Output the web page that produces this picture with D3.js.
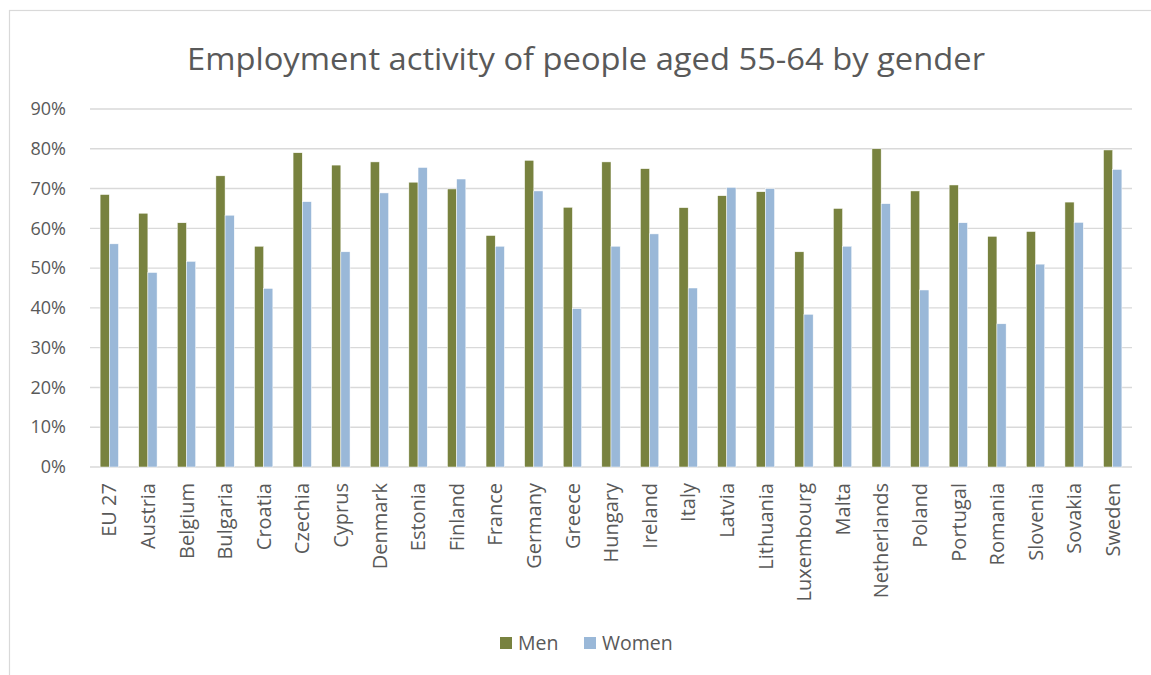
<!DOCTYPE html>
<html>
<head>
<meta charset="utf-8">
<script src="https://cdn.jsdelivr.net/npm/d3@7"></script>
<style>
  body { margin: 0; background: #fff; }
  svg { display: block; font-family: 'Open Sans', sans-serif; }
</style>
</head>
<body>
<div id="chart"></div>
<script>
'use strict';

// data (percent)
var countries = ['EU 27', 'Austria', 'Belgium', 'Bulgaria', 'Croatia', 'Czechia', 'Cyprus',
    'Denmark', 'Estonia', 'Finland', 'France', 'Germany', 'Greece', 'Hungary', 'Ireland',
    'Italy', 'Latvia', 'Lithuania', 'Luxembourg', 'Malta', 'Netherlands', 'Poland',
    'Portugal', 'Romania', 'Slovenia', 'Sovakia', 'Sweden'];

var men = [68.5, 63.8, 61.4, 73.2, 55.5, 79.0, 75.9, 76.7, 71.6, 69.9, 58.2, 77.1, 65.3,
    76.7, 75.0, 65.2, 68.2, 69.2, 54.1, 65.0, 80.0, 69.4, 70.9, 58.0, 59.2, 66.6, 79.7];

var women = [56.1, 48.9, 51.7, 63.3, 44.9, 66.7, 54.1, 68.9, 75.3, 72.4, 55.5, 69.4, 39.8,
    55.5, 58.6, 45.0, 70.3, 70.0, 38.4, 55.5, 66.2, 44.5, 61.4, 36.0, 51.0, 61.5, 74.8];

var seriesNames = ['Men', 'Women'];
var yTicks = [0, 10, 20, 30, 40, 50, 60, 70, 80, 90];

var colors = { Men: '#78823f', Women: '#9ab8d8' };

var stage = { width: 1151, height: 675 };
var plot = { left: 90, right: 1132, top: 109, bottom: 467 };

var svg = d3.select('#chart')
    .append('svg')
    .attr('width', stage.width)
    .attr('height', stage.height);

// chart border
svg.append('rect')
    .attr('x', 9.5)
    .attr('y', 10.5)
    .attr('width', stage.width)
    .attr('height', stage.height)
    .attr('fill', 'none')
    .attr('stroke', '#d9d9d9')
    .attr('stroke-width', 1.2);

// title
svg.append('text')
    .attr('x', 586)
    .attr('y', 70)
    .attr('text-anchor', 'middle')
    .attr('fill', '#595959')
    .attr('textLength', 798)
    .attr('lengthAdjust', 'spacingAndGlyphs')
    .style('font-size', '31px')
    .text('Employment activity of people aged 55-64 by gender');

var x = d3.scaleBand()
    .domain(countries)
    .range([plot.left, plot.right]);

var inner = d3.scaleBand()
    .domain(seriesNames)
    .range([0, x.bandwidth()])
    .paddingOuter(1.1);

var y = d3.scaleLinear()
    .domain([0, 90])
    .range([plot.bottom, plot.top]);

// GRID LINES
svg.append('g')
    .attr('class', 'grid')
    .selectAll('line').data(yTicks).enter()
    .append('line')
    .attr('x1', plot.left)
    .attr('x2', plot.right)
    .attr('y1', function(d) { return y(d); })
    .attr('y2', function(d) { return y(d); })
    .attr('stroke', '#d9d9d9')
    .attr('stroke-width', 1.4);

// Y AXIS LABELS
var yAxis = d3.axisLeft(y)
    .tickValues(yTicks)
    .tickSize(0)
    .tickPadding(0)
    .tickFormat(function(d) { return d + '%'; });

svg.append('g')
    .attr('transform', 'translate(66,0)')
    .call(yAxis)
    .call(function(g) { g.select('.domain').remove(); })
    .selectAll('text')
    .attr('fill', '#595959')
    .style('font-family', "'Open Sans', sans-serif")
    .style('font-size', '18px');

// BARS
var rows = countries.map(function(c, i) {
    return { country: c, values: [
        { key: 'Men', value: men[i] },
        { key: 'Women', value: women[i] }
    ] };
});

svg.append('g')
    .attr('class', 'bars')
    .selectAll('g').data(rows).enter()
    .append('g')
    .attr('transform', function(d) { return 'translate(' + x(d.country) + ',0)'; })
    .selectAll('rect').data(function(d) { return d.values; }).enter()
    .append('rect')
    .attr('x', function(d) { return inner(d.key); })
    .attr('y', function(d) { return y(d.value); })
    .attr('width', inner.bandwidth())
    .attr('height', function(d) { return plot.bottom - y(d.value); })
    .attr('fill', function(d) { return colors[d.key]; })
    .attr('stroke', '#ffffff')
    .attr('stroke-width', 0.5);

// X AXIS LABELS
var xAxis = d3.axisBottom(x)
    .tickSize(0)
    .tickPadding(0);

var xg = svg.append('g')
    .attr('transform', 'translate(0,' + plot.bottom + ')')
    .call(xAxis);
xg.select('.domain').remove();
xg.selectAll('text')
    .attr('fill', '#595959')
    .style('font-family', "'Open Sans', sans-serif")
    .style('font-size', '20px')
    .attr('text-anchor', 'end')
    .attr('transform', 'rotate(-90)')
    .attr('x', -16)
    .attr('y', 0)
    .attr('dy', '0.36em');

// LEGEND
var legend = svg.append('g')
    .attr('class', 'legend')
    .selectAll('g').data(seriesNames).enter()
    .append('g')
    .attr('transform', function(d, i) { return 'translate(' + (500 + i * 84) + ',637)'; });

legend.append('rect')
    .attr('width', 12)
    .attr('height', 12)
    .attr('fill', function(d) { return colors[d]; });

legend.append('text')
    .attr('x', 18)
    .attr('y', 6)
    .attr('dy', '0.36em')
    .attr('fill', '#595959')
    .style('font-size', '19.5px')
    .text(function(d) { return d; });
</script>
</body>
</html>
